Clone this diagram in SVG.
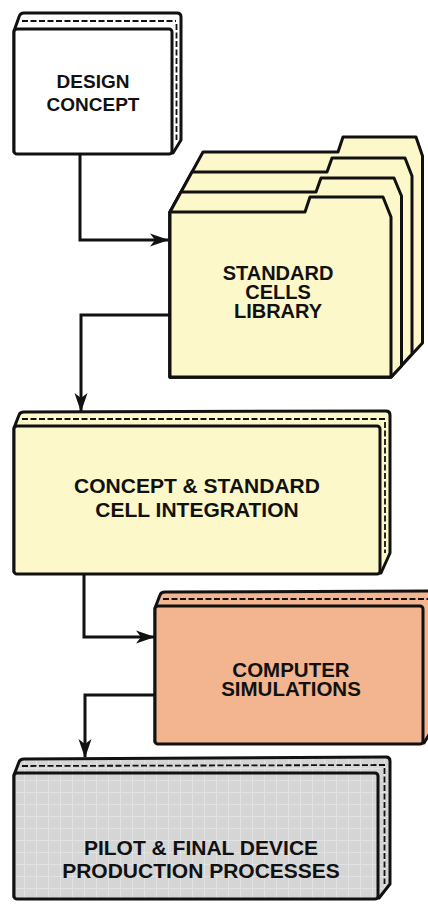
<svg xmlns="http://www.w3.org/2000/svg" width="428" height="906" viewBox="0 0 428 906">
  <style>
    .edge { stroke: #111; stroke-width: 3; stroke-linejoin: round; }
    .dash { fill: none; stroke: #111; stroke-width: 1.8; stroke-dasharray: 6 2.5; }
    .wire { fill: none; stroke: #111; stroke-width: 3; }
    .label { font-family: "Liberation Sans", Arial, sans-serif; font-weight: bold; fill: #111; text-anchor: middle; }
    .white { fill: #ffffff; }
    .cream { fill: #fcf8c9; }
    .salmon { fill: #f2b58f; }
    .grey { fill: url(#screen); }
  </style>
  <defs>
    <marker id="head" markerUnits="userSpaceOnUse" markerWidth="22" markerHeight="16" viewBox="-20 -8 22 16" refX="0" refY="0" orient="auto">
      <path d="M1,0 L-18,-6.5 L-13,0 L-18,6.5 Z" fill="#111"/>
    </marker>
    <pattern id="screen" patternUnits="userSpaceOnUse" width="12" height="12">
      <rect width="12" height="12" fill="#d5d5d5"/>
      <path d="M0,0.5 H12 M0.5,0 V12" stroke="#e2e2e2" stroke-width="1"/>
    </pattern>
  </defs>

  <!-- connectors -->
  <g id="connectors">
    <path class="wire" d="M80,155 V240 H168" marker-end="url(#head)"/>
    <path class="wire" d="M170,315 H81 V411" marker-end="url(#head)"/>
    <path class="wire" d="M84,575 V637 H154" marker-end="url(#head)"/>
    <path class="wire" d="M155,695 H85 V757" marker-end="url(#head)"/>
  </g>

  <!-- design concept slab -->
  <g id="design-concept">
    <path class="white edge" d="M14,152 L14,31 L19,17 Q20,13 24,13 L177,13 Q181,13 181,17 L181,140 L173,153 Z"/>
    <path class="dash" d="M22,21 L176,21 M176.5,24 L176.5,140"/>
    <rect class="white edge" x="14" y="29" width="158" height="125" rx="3"/>
    <text class="label" font-size="19" x="93" y="88">DESIGN</text>
    <text class="label" font-size="19" x="93" y="111">CONCEPT</text>
  </g>

  <!-- standard cells library: stack of four folders -->
  <g id="standard-cells-library">
    <path class="cream edge" d="M170,377 L170,212 L203,152 L338,152 L343,137 L416,137 L422.5,156 L422.5,343 L391,377 Z"/>
    <path class="cream edge" d="M170,377 L170,212 L192,172 L327,172 L332,158 L405,158 L412,176 L412,354 L391,377 Z"/>
    <path class="cream edge" d="M170,377 L170,212 L181,192 L316,192 L321,178 L394,178 L401.5,196 L401.5,366 L391,377 Z"/>
    <path class="cream edge" d="M170,377 L170,212 L305,212 L310,197 L383,197 L391,217 L391,377 Z"/>
    <text class="label" font-size="20" x="278" y="280">STANDARD</text>
    <text class="label" font-size="20" x="278" y="299">CELLS</text>
    <text class="label" font-size="20" x="278" y="318">LIBRARY</text>
  </g>

  <!-- integration slab -->
  <g id="cell-integration">
    <path class="cream edge" d="M14,572 L14,428 L19,415 Q20,412 24,412 L386,411 Q390,411 390,415 L390,553 L381,573 Z"/>
    <path class="dash" d="M22,419 L385,419 M385,422 L385,553"/>
    <rect class="cream edge" x="14" y="426" width="366" height="148" rx="3"/>
    <text class="label" font-size="21" x="197" y="493">CONCEPT &amp; STANDARD</text>
    <text class="label" font-size="21" x="197" y="517">CELL INTEGRATION</text>
  </g>

  <!-- simulation slab -->
  <g id="computer-simulations">
    <path class="salmon edge" d="M155,742 L155,608 L160,595 Q161,592 165,592 L429,591 Q433,591 433,595 L433,728 L424,743 Z"/>
    <path class="dash" d="M163,599 L430,599"/>
    <rect class="salmon edge" x="155" y="606" width="268" height="138" rx="3"/>
    <text class="label" font-size="20.5" x="291" y="677">COMPUTER</text>
    <text class="label" font-size="20.5" x="291" y="696">SIMULATIONS</text>
  </g>

  <!-- production slab -->
  <g id="production-processes">
    <path class="grey edge" d="M14,897 L14,775 L19,762 Q20,759 24,759 L386,757 Q390,757 390,761 L390,884 L379,898 Z"/>
    <path class="dash" d="M22,766 L385,765 M384.5,768 L384.5,884"/>
    <rect class="grey edge" x="14" y="773" width="364" height="126" rx="3"/>
    <text class="label" font-size="21" x="201" y="855">PILOT &amp; FINAL DEVICE</text>
    <text class="label" font-size="21" x="201" y="878">PRODUCTION PROCESSES</text>
  </g>
</svg>
